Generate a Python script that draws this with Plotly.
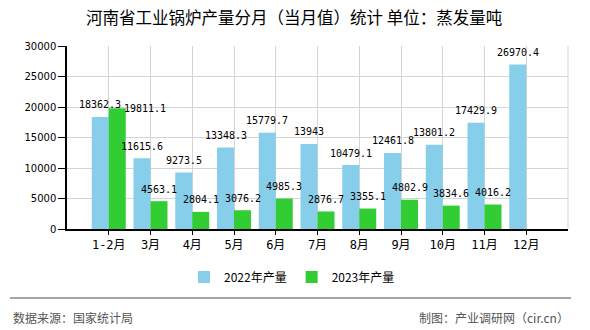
import plotly.graph_objects as go

categories = ["1-2月", "3月", "4月", "5月", "6月", "7月", "8月", "9月", "10月", "11月", "12月"]
values_2022 = [18362.3, 11615.6, 9273.5, 13348.3, 15779.7, 13943, 10479.1, 12461.8, 13801.2, 17429.9, 26970.4]
values_2023 = [19811.1, 4563.1, 2804.1, 3076.2, 4985.3, 2876.7, 3355.1, 4802.9, 3834.6, 4016.2, None]
series_names = ["2022年产量", "2023年产量"]
y_ticks = [0, 5000, 10000, 15000, 20000, 25000, 30000]

title_text = "河南省工业锅炉产量分月（当月值）统计 单位：蒸发量吨"
source_text = "数据来源：国家统计局"
maker_text = "制图：产业调研网（cir.cn）"

BLUE = "#87CEEB"
GREEN = "#32CD32"
GRID = "#d4d4d4"
CJK = "Noto Sans CJK SC"
MONO = "DejaVu Sans Mono"

W, H = 590, 330
L, R, T, B = 67, 22, 46, 101
PW, PH = W - L - R, H - T - B


def fmt(v):
    return ("%.1f" % v).rstrip("0").rstrip(".")


def py(pix):
    return (H - B - pix) / PH


def px(pix):
    return (pix - L) / PW


fig = go.Figure()
fig.add_trace(go.Bar(x=categories, y=values_2022, name=series_names[0], marker_color=BLUE,
                     marker_line_width=0))
fig.add_trace(go.Bar(x=categories, y=values_2023, name=series_names[1], marker_color=GREEN,
                     marker_line_width=0))

annotations = []
# label offsets (style): special shift for overlapping first green label
special = {(1, 0): (28, 0)}
for s, (vals, dx) in enumerate([(values_2022, -8.5), (values_2023, 8.5)]):
    for i, v in enumerate(vals):
        if v is None:
            continue
        ex, ey = special.get((s, i), (0, 12))
        annotations.append(dict(x=categories[i], y=v, xref="x", yref="y", text=fmt(v),
                                showarrow=False, xshift=dx + ex, yshift=ey,
                                xanchor="center", yanchor="middle",
                                font=dict(family=MONO, size=10, color="#000")))

annotations.append(dict(x=px(294), y=py(17), xref="paper", yref="paper", text=title_text,
                        showarrow=False, xanchor="center", yanchor="middle",
                        font=dict(family=CJK, size=16.5, color="#000")))
annotations.append(dict(x=px(11), y=py(317), xref="paper", yref="paper", text=source_text,
                        showarrow=False, xanchor="left", yanchor="middle",
                        font=dict(family=CJK, size=12, color="#555")))
annotations.append(dict(x=px(571), y=py(317), xref="paper", yref="paper", text=maker_text,
                        showarrow=False, xanchor="right", yanchor="middle",
                        font=dict(family=CJK, size=12, color="#555")))

shapes = [
    dict(type="line", xref="paper", yref="paper", x0=1, x1=1, y0=0, y1=1,
         line=dict(color=GRID, width=1)),
    dict(type="line", xref="paper", yref="paper", x0=px(10), x1=px(571), y0=py(298), y1=py(298),
         line=dict(color="#888", width=1.5)),
]

fig.update_layout(
    width=W, height=H,
    margin=dict(l=L, r=R, t=T, b=B),
    paper_bgcolor="white", plot_bgcolor="white",
    barmode="group", bargap=0.186, bargroupgap=0,
    showlegend=True,
    legend=dict(orientation="h", x=px(292), y=py(277), xanchor="center", yanchor="middle",
                font=dict(family=CJK, size=12, color="#000"), itemwidth=30),
    annotations=annotations,
    shapes=shapes,
)
fig.update_xaxes(type="category", range=[-1, 11], showgrid=True, gridcolor=GRID, gridwidth=1,
                 showline=True, linecolor="#000", linewidth=1.5, ticks="outside", ticklen=4,
                 tickcolor="#000", tickfont=dict(family=MONO + ", " + CJK, size=12, color="#000"),
                 zeroline=False)
fig.update_yaxes(range=[0, 30000], tickvals=y_ticks, ticktext=[str(t) for t in y_ticks],
                 showgrid=True, gridcolor=GRID, gridwidth=1,
                 showline=True, linecolor="#000", linewidth=1.5, ticks="outside", ticklen=7,
                 tickcolor="#000", tickfont=dict(family="DejaVu Sans", size=10, color="#000"),
                 zeroline=False)

fig.write_html("out.html")
